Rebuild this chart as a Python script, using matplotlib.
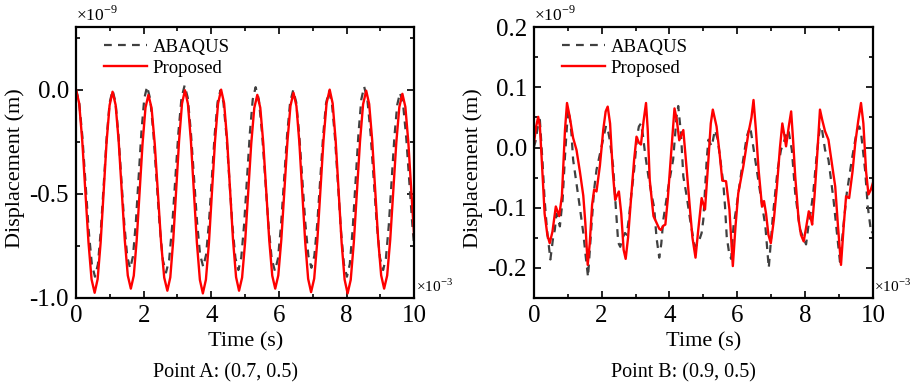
import matplotlib
matplotlib.use("Agg")
import matplotlib.pyplot as plt
from matplotlib.ticker import MultipleLocator

plt.rcParams['font.family'] = 'Liberation Serif'
plt.rcParams['mathtext.fontset'] = 'custom'
plt.rcParams['mathtext.rm'] = 'Liberation Serif'

# ---- Point A (0.7, 0.5): time in 1e-3 s, displacement in 1e-9 m ----
t_a_abaqus = [
    0.0, 0.093, 0.187, 0.28, 0.373, 0.467,
    0.56, 0.647, 0.733, 0.82, 0.907, 0.993,
    1.08, 1.167, 1.253, 1.34, 1.427, 1.513,
    1.60, 1.683, 1.767, 1.85, 1.933, 2.017,
    2.10, 2.193, 2.287, 2.38, 2.473, 2.567,
    2.66, 2.752, 2.843, 2.935, 3.027, 3.118,
    3.21, 3.302, 3.393, 3.485, 3.577, 3.668,
    3.76, 3.845, 3.93, 4.015, 4.10, 4.185,
    4.27, 4.358, 4.447, 4.535, 4.623, 4.712,
    4.80, 4.885, 4.97, 5.055, 5.14, 5.225,
    5.31, 5.405, 5.50, 5.595, 5.69, 5.785,
    5.88, 5.97, 6.06, 6.15, 6.24, 6.33,
    6.42, 6.51, 6.60, 6.69, 6.78, 6.87,
    6.96, 7.047, 7.133, 7.22, 7.307, 7.393,
    7.48, 7.568, 7.657, 7.745, 7.833, 7.922,
    8.01, 8.095, 8.18, 8.265, 8.35, 8.435,
    8.52, 8.613, 8.707, 8.80, 8.893, 8.987,
    9.08, 9.163, 9.247, 9.33, 9.413, 9.497,
    9.58, 9.672, 9.763, 9.855, 9.947, 10.0,
]
u_a_abaqus = [
    0.0, -0.060, -0.225, -0.449, -0.674, -0.838,
    -0.898, -0.838, -0.674, -0.451, -0.227, -0.063,
    -0.003, -0.060, -0.217, -0.431, -0.644, -0.801,
    -0.858, -0.800, -0.640, -0.422, -0.203, -0.043,
    0.015, -0.045, -0.208, -0.432, -0.655, -0.818,
    -0.878, -0.818, -0.654, -0.429, -0.205, -0.040,
    0.020, -0.038, -0.198, -0.415, -0.633, -0.792,
    -0.850, -0.793, -0.638, -0.427, -0.215, -0.060,
    -0.003, -0.061, -0.219, -0.435, -0.650, -0.808,
    -0.866, -0.807, -0.647, -0.427, -0.208, -0.047,
    0.012, -0.047, -0.209, -0.429, -0.650, -0.811,
    -0.870, -0.812, -0.653, -0.437, -0.220, -0.061,
    -0.003, -0.060, -0.216, -0.429, -0.642, -0.798,
    -0.855, -0.798, -0.643, -0.432, -0.220, -0.065,
    -0.008, -0.068, -0.231, -0.453, -0.676, -0.838,
    -0.898, -0.837, -0.670, -0.442, -0.214, -0.047,
    0.014, -0.045, -0.206, -0.426, -0.646, -0.807,
    -0.866, -0.809, -0.653, -0.441, -0.228, -0.073,
    -0.015, -0.072, -0.229, -0.443, -0.656, -0.755,
]
t_a_proposed = [
    0.0, 0.092, 0.183, 0.275, 0.367, 0.458,
    0.55, 0.638, 0.727, 0.815, 0.903, 0.992,
    1.08, 1.17, 1.26, 1.35, 1.44, 1.53,
    1.62, 1.707, 1.793, 1.88, 1.967, 2.053,
    2.14, 2.233, 2.327, 2.42, 2.513, 2.607,
    2.70, 2.787, 2.873, 2.96, 3.047, 3.133,
    3.22, 3.308, 3.397, 3.485, 3.573, 3.662,
    3.75, 3.84, 3.93, 4.02, 4.11, 4.20,
    4.29, 4.378, 4.467, 4.555, 4.643, 4.732,
    4.82, 4.91, 5.00, 5.09, 5.18, 5.27,
    5.36, 5.448, 5.537, 5.625, 5.713, 5.802,
    5.89, 5.98, 6.07, 6.16, 6.25, 6.34,
    6.43, 6.517, 6.603, 6.69, 6.777, 6.863,
    6.95, 7.042, 7.133, 7.225, 7.317, 7.408,
    7.50, 7.588, 7.677, 7.765, 7.853, 7.942,
    8.03, 8.122, 8.213, 8.305, 8.397, 8.488,
    8.58, 8.668, 8.757, 8.845, 8.933, 9.022,
    9.11, 9.20, 9.29, 9.38, 9.47, 9.56,
    9.65, 9.738, 9.827, 9.915, 10.0,
]
u_a_proposed = [
    0.0, -0.065, -0.244, -0.488, -0.731, -0.910,
    -0.975, -0.910, -0.734, -0.493, -0.251, -0.075,
    -0.010, -0.073, -0.246, -0.483, -0.719, -0.892,
    -0.955, -0.893, -0.723, -0.490, -0.258, -0.087,
    -0.025, -0.088, -0.260, -0.495, -0.730, -0.902,
    -0.965, -0.901, -0.725, -0.484, -0.244, -0.067,
    -0.003, -0.068, -0.247, -0.491, -0.734, -0.913,
    -0.978, -0.912, -0.734, -0.489, -0.245, -0.066,
    0.0, -0.065, -0.241, -0.483, -0.724, -0.900,
    -0.965, -0.902, -0.730, -0.495, -0.260, -0.088,
    -0.025, -0.087, -0.258, -0.490, -0.723, -0.893,
    -0.955, -0.892, -0.720, -0.485, -0.250, -0.078,
    -0.015, -0.079, -0.254, -0.494, -0.733, -0.908,
    -0.972, -0.907, -0.729, -0.486, -0.243, -0.065,
    0.0, -0.066, -0.245, -0.489, -0.734, -0.912,
    -0.978, -0.913, -0.735, -0.492, -0.248, -0.070,
    -0.005, -0.069, -0.243, -0.480, -0.718, -0.891,
    -0.955, -0.892, -0.721, -0.488, -0.254, -0.083,
    -0.020, -0.083, -0.255, -0.490, -0.710,
]

# ---- Point B (0.9, 0.5) ----
t_b_abaqus = [
    0.0, 0.05, 0.12, 0.18, 0.26, 0.32, 0.39, 0.49, 0.57, 0.62,
    0.67, 0.72, 0.77, 0.85, 0.92, 1.01, 1.06, 1.11, 1.16, 1.26,
    1.36, 1.46, 1.53, 1.60, 1.70, 1.78, 1.85, 2.00, 2.13, 2.20,
    2.24, 2.34, 2.42, 2.49, 2.55, 2.62, 2.69, 2.74, 2.80, 2.86,
    2.96, 3.05, 3.10, 3.16, 3.22, 3.28, 3.38, 3.48, 3.55, 3.62,
    3.70, 3.76, 3.82, 3.97, 4.11, 4.21, 4.26, 4.34, 4.41, 4.51,
    4.61, 4.70, 4.75, 4.85, 4.95, 5.00, 5.05, 5.10, 5.15, 5.25,
    5.34, 5.42, 5.49, 5.59, 5.64, 5.69, 5.76, 5.82, 5.89, 5.98,
    6.13, 6.28, 6.38, 6.45, 6.53, 6.68, 6.83, 6.93, 7.00, 7.05,
    7.19, 7.29, 7.38, 7.46, 7.51, 7.61, 7.71, 7.85, 7.95, 8.03,
    8.10, 8.15, 8.24, 8.35, 8.44, 8.50, 8.59, 8.69, 8.84, 8.94,
    9.03, 9.13, 9.23, 9.38, 9.53, 9.60, 9.65, 9.77, 9.85, 9.95,
    10.0,
]
u_b_abaqus = [
    0.000, 0.010, 0.035, 0.046, -0.026, -0.087, -0.137, -0.186, -0.150, -0.137,
    -0.110, -0.120, -0.131, -0.087, -0.015, 0.063, 0.050, 0.024, -0.020, -0.060,
    -0.100, -0.142, -0.180, -0.215, -0.131, -0.070, -0.037, 0.002, 0.036, 0.025,
    0.013, -0.031, -0.100, -0.158, -0.165, -0.150, -0.142, -0.145, -0.120, -0.087,
    -0.037, 0.020, 0.035, 0.040, 0.020, -0.009, -0.048, -0.080, -0.100, -0.150,
    -0.183, -0.160, -0.120, -0.065, -0.020, 0.051, 0.069, 0.024, -0.048, -0.081,
    -0.120, -0.150, -0.165, -0.159, -0.142, -0.120, -0.070, -0.020, 0.013, 0.002,
    0.029, 0.015, -0.015, -0.060, -0.098, -0.148, -0.175, -0.185, -0.131, -0.098,
    -0.037, 0.018, 0.035, 0.010, -0.020, -0.076, -0.131, -0.200, -0.150, -0.114,
    -0.037, -0.004, 0.010, 0.024, 0.029, -0.004, -0.076, -0.136, -0.150, -0.161,
    -0.130, -0.114, -0.076, -0.009, 0.035, 0.030, -0.004, -0.020, -0.087, -0.142,
    -0.190, -0.131, -0.076, -0.020, 0.029, 0.035, 0.025, -0.037, -0.098, -0.142,
    -0.140,
]
t_b_proposed = [
    0.0, 0.07, 0.13, 0.18, 0.23, 0.32, 0.40, 0.47, 0.55, 0.65,
    0.75, 0.83, 0.92, 0.98, 1.06, 1.16, 1.26, 1.36, 1.46, 1.52,
    1.59, 1.65, 1.72, 1.78, 1.85, 1.95, 2.05, 2.12, 2.18, 2.25,
    2.33, 2.40, 2.45, 2.51, 2.58, 2.65, 2.71, 2.78, 2.88, 2.96,
    3.03, 3.10, 3.16, 3.24, 3.31, 3.36, 3.42, 3.53, 3.62, 3.70,
    3.75, 3.82, 3.88, 3.95, 4.05, 4.15, 4.22, 4.29, 4.41, 4.50,
    4.61, 4.68, 4.77, 4.85, 4.95, 5.05, 5.15, 5.22, 5.28, 5.39,
    5.48, 5.56, 5.67, 5.77, 5.87, 5.95, 6.03, 6.18, 6.33, 6.42,
    6.48, 6.55, 6.63, 6.73, 6.79, 6.85, 6.92, 6.99, 7.08, 7.17,
    7.26, 7.33, 7.39, 7.44, 7.52, 7.59, 7.65, 7.71, 7.81, 7.88,
    7.96, 8.04, 8.11, 8.16, 8.21, 8.28, 8.35, 8.44, 8.51, 8.59,
    8.69, 8.80, 8.89, 8.97, 9.06, 9.14, 9.21, 9.30, 9.40, 9.48,
    9.57, 9.65, 9.72, 9.80, 9.87, 9.94, 10.0,
]
u_b_proposed = [
    0.005, 0.035, 0.051, 0.035, -0.015, -0.110, -0.145, -0.159, -0.140, -0.098,
    -0.114, -0.080, 0.029, 0.074, 0.051, 0.016, -0.004, -0.040, -0.080, -0.125,
    -0.195, -0.160, -0.095, -0.070, -0.073, -0.030, 0.030, 0.060, 0.068, 0.040,
    -0.040, -0.087, -0.080, -0.073, -0.110, -0.170, -0.185, -0.150, -0.076, -0.020,
    0.018, 0.008, 0.005, 0.045, 0.074, 0.030, -0.054, -0.114, -0.125, -0.135,
    -0.137, -0.130, -0.128, -0.087, -0.010, 0.065, 0.045, 0.012, 0.029, -0.030,
    -0.105, -0.150, -0.183, -0.137, -0.084, -0.103, -0.020, 0.040, 0.063, 0.035,
    -0.010, -0.055, -0.056, -0.103, -0.197, -0.130, -0.076, -0.031, 0.024, 0.050,
    0.079, 0.030, -0.037, -0.098, -0.089, -0.110, -0.145, -0.159, -0.120, -0.065,
    0.000, 0.040, 0.020, 0.002, 0.035, 0.060, 0.010, -0.048, -0.120, -0.145,
    -0.156, -0.130, -0.106, -0.115, -0.128, -0.080, -0.020, 0.063, 0.045, 0.027,
    0.013, -0.030, -0.065, -0.130, -0.195, -0.130, -0.081, -0.084, -0.040, 0.007,
    0.045, 0.074, 0.040, -0.040, -0.078, -0.070, -0.059,
]

panels = [
    (t_a_abaqus, u_a_abaqus, t_a_proposed, u_a_proposed, (-1.0, 0.3), 0.5, 0.25,
     'Point A: (0.7, 0.5)'),
    (t_b_abaqus, u_b_abaqus, t_b_proposed, u_b_proposed, (-0.25, 0.2), 0.1, 0.05,
     'Point B: (0.9, 0.5)'),
]

fig = plt.figure(figsize=(9.14, 3.88), dpi=100)
ax_a = fig.add_axes([0.0832, 0.232, 0.370, 0.698])
ax_b = fig.add_axes([0.584, 0.232, 0.371, 0.698])
caption_x = [0.247, 0.748]

for ax, (ta, ua, tp, up, ylim, ymaj, ymin, caption), cx in zip([ax_a, ax_b], panels, caption_x):
    ax.plot(ta, ua, color='#404040', lw=1.6, ls=(0, (3.5, 2.8)), label='ABAQUS')
    ax.plot(tp, up, color='#ff0000', lw=1.7, label='Proposed')

    ax.set_xlim(0, 10)
    ax.set_ylim(*ylim)
    ax.xaxis.set_major_locator(MultipleLocator(2))
    ax.xaxis.set_minor_locator(MultipleLocator(1))
    ax.yaxis.set_major_locator(MultipleLocator(ymaj))
    ax.yaxis.set_minor_locator(MultipleLocator(ymin))
    ax.yaxis.set_major_formatter(plt.FormatStrFormatter('%.1f'))
    ax.tick_params(which='both', direction='in', top=True, right=True, width=1.2)
    ax.tick_params(which='major', length=5, labelsize=18, pad=5)
    ax.tick_params(which='minor', length=3)
    for sp in ax.spines.values():
        sp.set_linewidth(1.6)

    ax.set_xlabel('Time (s)', fontsize=16)
    ax.set_ylabel('Displacement (m)', fontsize=16)
    ax.xaxis.set_label_coords(0.5, -0.125)
    ax.yaxis.set_label_coords(-0.15, 0.48)

    # scale factors shown at the axis corners
    ax.text(0.0, 1.008, '×10$^{-9}$', transform=ax.transAxes, ha='left', va='bottom', fontsize=12.5)
    ax.text(1.004, 0.01, '×10$^{-3}$', transform=ax.transAxes, ha='left', va='bottom', fontsize=11)

    ax.legend(loc='upper left', bbox_to_anchor=(0.06, 0.985), frameon=False, fontsize=13.5,
              handlelength=2.3, handletextpad=0.3, labelspacing=0.2, borderaxespad=0)

    fig.text(cx, 0.039, caption, ha='center', va='center', fontsize=14.5)

fig.savefig('out.png', dpi=100)
